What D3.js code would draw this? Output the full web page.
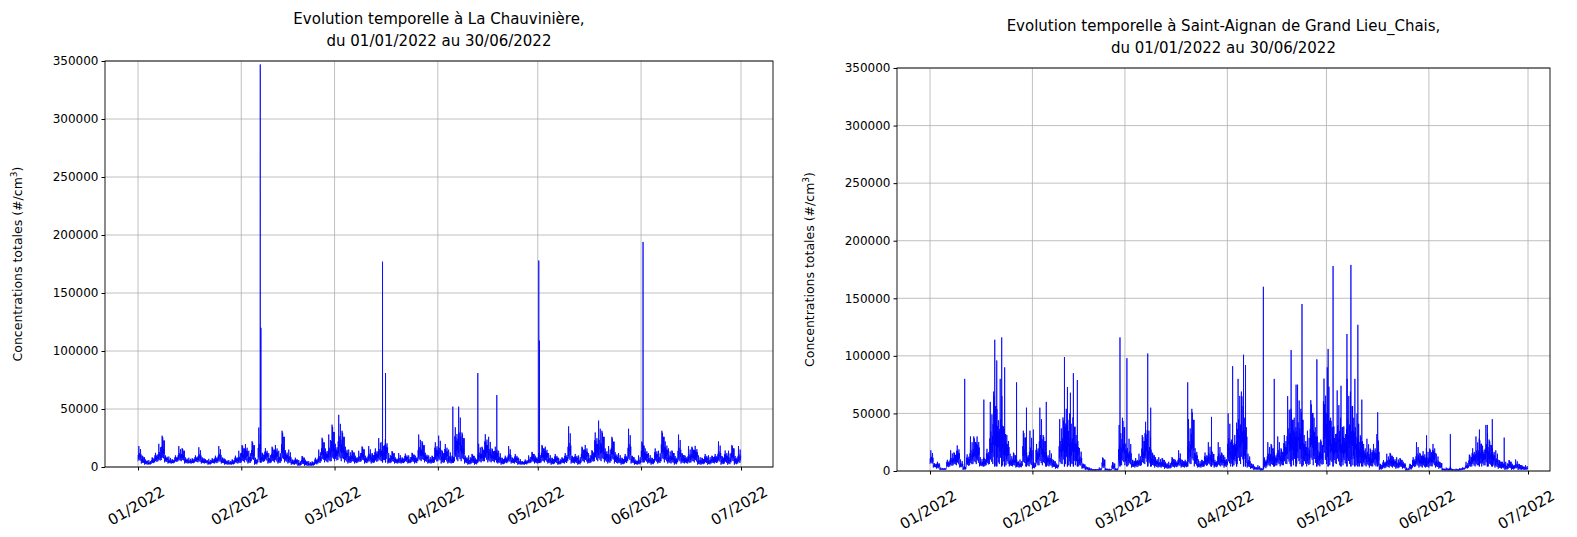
<!DOCTYPE html>
<html><head><meta charset="utf-8">
<script src="https://cdn.jsdelivr.net/npm/d3@7"></script>
<style>body{margin:0;background:#fff;font-family:"DejaVu Sans",sans-serif}</style>
</head><body><svg width="1577" height="537"></svg>
<script>
// daily high / low envelopes (thousands #/cm3), day 0 = 01/01/2022
const leftHigh = [18,12,8,6,10,15,20,34,12,9,8,12,18,20,10,8,9,12,17,10,8,7,9,12,18,10,8,6,8,12,14,
  24,25,14,28,10,34,15,20,12,22,24,14,40,18,15,8,10,6,12,8,5,6,10,15,32,20,28,47,
  25,45,40,22,15,18,12,14,22,12,18,15,20,25,27,30,12,17,10,12,10,14,10,15,12,28,28,15,10,12,27,
  27,18,25,15,12,44,52,38,12,10,14,10,20,22,36,26,20,22,14,10,12,18,10,14,8,6,8,10,16,12,
  12,24,22,12,10,14,8,10,15,35,12,14,10,22,24,12,18,38,40,40,20,18,33,16,12,10,14,33,12,8,10,
  28,20,12,10,20,14,40,28,16,18,12,28,15,12,18,22,23,10,10,14,10,12,14,22,12,18,14,24,12,18];
const leftLow = [5,3,2,2,3,4,5,6,4,3,3,4,5,5,3,3,3,4,4,3,3,2,3,3,4,3,2,2,2,3,3,
  4,4,3,5,2,4,4,5,3,4,4,3,5,4,3,2,2,1,2,1,1,1,2,3,5,4,4,5,
  5,6,5,4,3,4,3,4,5,3,4,3,4,5,5,6,3,4,3,3,3,4,3,4,3,5,5,4,3,3,4,
  5,3,4,3,3,5,5,5,3,2,3,2,4,4,5,4,4,4,3,2,3,4,3,3,2,2,2,3,4,3,
  3,4,4,3,2,3,2,3,3,5,3,3,2,4,4,3,4,5,5,5,4,3,5,3,3,2,3,5,3,2,2,
  4,4,3,2,4,3,5,4,3,3,2,4,3,3,3,4,4,2,2,3,2,3,3,4,2,3,2,4,2,3];
const leftSpikes = [[36.7,347],[36.9,120],[73.4,177],[74.3,81],[94.5,52],[102,81],[107.7,62],
  [120.3,178],[120.5,109],[151.6,194]];

const rightHigh = [18,8,10,3,3,12,18,20,28,10,5,18,30,38,38,12,14,24,60,90,70,80,50,40,15,20,12,10,45,20,35,
  10,30,55,40,20,18,12,8,45,60,70,50,60,40,20,8,5,3,2,2,3,15,3,2,10,3,40,60,
  30,28,12,14,15,40,55,35,20,15,12,14,10,8,15,12,18,12,12,45,70,25,10,12,20,25,22,12,25,20,15,
  50,35,40,80,90,60,15,8,5,5,3,15,25,30,20,30,25,40,65,70,60,75,70,40,35,80,60,30,35,105,
  90,60,50,70,60,50,80,90,60,50,40,30,28,25,30,32,8,12,15,20,15,12,14,10,3,8,15,25,20,22,20,
  25,30,15,10,3,3,3,2,2,3,4,8,18,25,30,36,28,40,35,25,18,12,10,8,12,8,10,8,6,5];
const rightLow = [6,3,2,1,1,3,4,5,5,3,1,4,5,6,6,4,4,5,6,6,5,6,5,5,4,4,3,3,5,4,4,
  2,4,5,5,4,4,3,2,5,6,6,5,6,5,4,2,1,0.5,0.5,0.5,0.5,2,0.5,0.5,1,0.5,4,5,
  5,5,3,3,4,5,6,5,4,3,3,3,2,2,3,3,4,3,3,5,6,4,3,3,4,5,4,3,4,4,3,
  5,4,5,6,6,5,3,2,1,1,0.5,2,4,4,4,5,4,5,6,6,5,6,6,5,4,6,5,4,4,6,
  6,5,5,6,5,5,6,6,5,5,4,4,4,3,4,4,1,2,3,3,3,2,3,2,0.5,1,3,4,3,3,3,
  3,4,3,2,0.5,0.5,0.5,0.5,0.5,0.5,1,2,3,4,4,5,4,5,4,4,3,2,2,1,2,1,2,1,1,1];
const rightSpikes = [[10.5,80],[16.3,62],[19.6,114],[20.2,96],[21.7,116],[22.6,90],[26.2,77],[29.2,55],
  [31.3,36],[35.2,60],[40.7,99],[41.6,73],[42.5,68],[43.4,85],[44.6,79],[57.5,116],[59.6,98],
  [65.9,102],[66.8,55],[78,77],[85.2,47],[91.6,91],[92.8,42],[94.9,101],[95.5,92],[100.9,160],
  [104.2,80],[109.3,105],[110.8,75],[112.6,145],[117.1,97],[120.5,106],[122,178],[124.4,74],
  [126.2,119],[127.4,179],[128.6,80],[129.5,127],[130.7,62],[135.5,51],[150.3,31],[157.5,32],
  [166.3,36],[168.7,40],[170.2,45],[173.8,29]];

// fraction of the daily high reached at successive samples within a day
const dayShape = [0.0,0.55,0.2,1.0,0.1,0.7,0.3,0.45,0.05,0.8,0.25,0.6];

const yTicks = [0,50000,100000,150000,200000,250000,300000,350000];
const xTicks = ["2022-01-01","2022-02-01","2022-03-01","2022-04-01","2022-05-01","2022-06-01","2022-07-01"];

const svg = d3.select('svg');
const t0 = new Date(2022,0,1);
const dayToDate = d => new Date(t0.getTime() + d*86400000);

function build(high, low, spikes) {
  const pts = [];
  high.forEach((h,i) => {
    dayShape.forEach((f,k) => {
      const v = low[i] + (h - low[i]) * f * ((i+k)%3===0 ? 1 : 0.75);
      pts.push([i + k/dayShape.length, v*1000]);
    });
  });
  spikes.forEach(s => { pts.push([s[0]-0.02, 4000]); pts.push([s[0], s[1]*1000]); pts.push([s[0]+0.02, 4000]); });
  pts.sort((a,b) => a[0]-b[0]);
  return pts;
}

function panel(cfg) {
  const {jx0,jx1,x0,x1,y0,y1,title,high,low,spikes} = cfg;
  const g = svg.append('g');
  const x = d3.scaleTime().domain([new Date(2022,0,1), new Date(2022,6,1)]).range([jx0,jx1]);
  const y = d3.scaleLinear().domain([0,350000]).range([y1,y0]);

  g.selectAll('.vg').data(xTicks).join('line')
    .attr('x1', d=>x(new Date(d+'T00:00'))).attr('x2', d=>x(new Date(d+'T00:00')))
    .attr('y1', y0).attr('y2', y1).attr('stroke','#b0b0b0').attr('stroke-width',0.8);
  g.selectAll('.hg').data(yTicks).join('line')
    .attr('x1', x0).attr('x2', x1).attr('y1', d=>y(d)).attr('y2', d=>y(d))
    .attr('stroke','#b0b0b0').attr('stroke-width',0.8);

  const pts = build(high, low, spikes);
  g.append('path').datum(pts)
    .attr('d', d3.line().x(p=>x(dayToDate(p[0]))).y(p=>y(p[1])))
    .attr('fill','none').attr('stroke','#0000ff').attr('stroke-width',0.8);

  g.append('rect').attr('x',x0).attr('y',y0).attr('width',x1-x0).attr('height',y1-y0)
    .attr('fill','none').attr('stroke','#000').attr('stroke-width',0.9);

  const ya = g.append('g').attr('transform',`translate(${x0},0)`)
    .call(d3.axisLeft(y).tickValues(yTicks).tickFormat(d3.format('d')).tickSize(3.5));
  ya.select('.domain').remove();
  ya.selectAll('text').attr('font-size',12).attr('font-family','DejaVu Sans').attr('fill','#000');

  const xa = g.append('g').attr('transform',`translate(0,${y1})`)
    .call(d3.axisBottom(x).tickValues(xTicks.map(d=>new Date(d+'T00:00'))).tickFormat(d3.timeFormat('%m/%Y')).tickSize(3.5));
  xa.select('.domain').remove();
  xa.selectAll('text').attr('font-size',15).attr('font-family','DejaVu Sans').attr('fill','#000')
    .attr('text-anchor','end').attr('dy',0).attr('transform','translate(24,22) rotate(-30)');

  const cx = (x0+x1)/2;
  const tt = g.append('text').attr('x',cx).attr('y',y0-37).attr('text-anchor','middle')
    .attr('font-size',15).attr('font-family','DejaVu Sans');
  tt.append('tspan').attr('x',cx).text(title);
  tt.append('tspan').attr('x',cx).attr('dy',22).text('du 01/01/2022 au 30/06/2022');

  const yl = g.append('text').attr('transform',`translate(${x0-83},${(y0+y1)/2}) rotate(-90)`)
    .attr('text-anchor','middle').attr('font-size',12.5).attr('font-family','DejaVu Sans');
  yl.append('tspan').text('Concentrations totales (#/cm');
  yl.append('tspan').attr('baseline-shift','super').attr('font-size',9).text('3');
  yl.append('tspan').text(')');
}

panel({jx0:138,jx1:741,x0:105,x1:773,y0:61,y1:467,title:'Evolution temporelle à La Chauvinière,',high:leftHigh,low:leftLow,spikes:leftSpikes});
panel({jx0:930,jx1:1528,x0:897,x1:1550,y0:68,y1:471,title:'Evolution temporelle à Saint-Aignan de Grand Lieu_Chais,',high:rightHigh,low:rightLow,spikes:rightSpikes});
</script></body></html>
